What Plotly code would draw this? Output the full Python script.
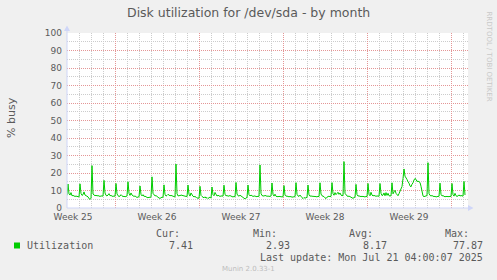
import plotly.graph_objects as go
import pandas as pd

# ---------------- data ----------------
title = "Disk utilization for /dev/sda - by month"
y_title = "% busy"
start_time = "2025-06-18 00:00"
sample_freq = "2h"

# one row per day, 2-hour samples (% busy)
day_rows = [
    [7.2, 13.7, 8.0, 7.4, 8.8, 7.0, 7.2, 6.9, 6.6, 6.8, 6.4, 6.5],
    [6.3, 13.8, 8.3, 7.2, 7.6, 9.2, 7.4, 7.0, 6.8, 6.4, 5.3, 5.0],
    [5.4, 24.2, 8.0, 7.4, 7.0, 7.3, 6.9, 7.1, 6.8, 6.6, 6.9, 6.7],
    [6.8, 15.8, 8.6, 7.2, 6.9, 7.4, 8.2, 7.0, 7.2, 6.8, 6.6, 6.9],
    [6.7, 14.0, 8.1, 7.0, 6.6, 6.8, 7.6, 7.0, 6.5, 6.7, 6.4, 6.6],
    [6.9, 15.0, 8.4, 7.2, 8.6, 7.4, 6.8, 6.6, 6.9, 6.2, 6.0, 6.3],
    [6.4, 12.6, 7.8, 6.9, 7.6, 6.6, 6.8, 6.4, 6.1, 5.8, 6.2, 6.0],
    [6.3, 17.8, 8.4, 7.3, 6.9, 7.1, 6.5, 6.0, 5.7, 5.5, 5.9, 6.2],
    [6.1, 13.2, 7.8, 6.8, 7.2, 7.8, 7.4, 7.0, 7.2, 6.9, 6.7, 6.5],
    [6.3, 25.1, 8.2, 6.9, 7.0, 7.5, 7.2, 7.4, 6.9, 7.1, 6.6, 6.8],
    [6.5, 13.1, 7.9, 6.8, 8.6, 7.2, 6.7, 6.4, 6.6, 6.2, 5.6, 5.8],
    [5.5, 12.4, 7.2, 6.6, 6.2, 5.8, 6.4, 5.6, 6.0, 5.4, 5.9, 6.2],
    [5.6, 12.0, 7.6, 7.0, 8.9, 7.2, 6.8, 7.3, 6.9, 6.6, 6.9, 6.7],
    [6.8, 13.0, 7.9, 6.9, 7.2, 6.7, 6.9, 7.1, 6.8, 6.5, 6.3, 6.6],
    [6.4, 14.6, 8.0, 7.0, 6.8, 7.3, 6.9, 6.6, 6.1, 5.4, 5.2, 5.8],
    [5.9, 13.1, 7.6, 6.9, 7.4, 7.0, 6.6, 6.8, 6.9, 6.5, 6.7, 6.6],
    [6.7, 24.6, 8.3, 7.1, 7.0, 6.8, 7.2, 6.9, 6.7, 6.8, 6.5, 6.6],
    [6.9, 14.3, 7.8, 6.8, 7.9, 6.7, 6.5, 6.6, 6.3, 6.6, 6.4, 6.5],
    [6.4, 12.8, 7.4, 6.7, 6.9, 6.5, 6.6, 6.3, 6.5, 6.2, 6.4, 6.6],
    [6.5, 14.5, 7.8, 6.9, 6.6, 7.4, 6.4, 5.9, 5.4, 6.0, 5.6, 5.9],
    [6.1, 13.1, 7.5, 6.7, 7.0, 6.6, 6.8, 6.5, 6.7, 6.4, 6.6, 6.5],
    [6.6, 14.4, 8.0, 7.0, 6.8, 6.5, 5.8, 5.4, 6.2, 6.6, 6.8, 6.4],
    [6.7, 14.5, 8.2, 7.3, 8.8, 7.6, 8.4, 9.0, 7.8, 8.6, 7.4, 7.0],
    [7.2, 26.5, 8.4, 7.2, 6.9, 6.6, 6.8, 6.5, 6.2, 5.8, 5.5, 6.0],
    [6.2, 13.5, 7.6, 6.8, 7.0, 6.6, 6.7, 6.4, 6.6, 6.5, 6.3, 6.6],
    [6.5, 14.0, 7.8, 7.0, 9.0, 7.4, 6.9, 7.2, 6.8, 6.7, 6.9, 6.6],
    [6.7, 14.0, 8.4, 7.1, 7.4, 8.6, 7.0, 8.8, 7.2, 8.4, 7.0, 6.9],
    [7.0, 14.4, 8.1, 9.2, 10.1, 8.4, 7.5, 7.0, 8.2, 9.8, 10.4, 12.3],
    [16.8, 22.3, 18.2, 17.4, 16.3, 15.0, 14.2, 12.6, 12.1, 13.6, 14.4, 16.0],
    [16.9, 16.4, 15.1, 15.4, 14.8, 14.6, 12.4, 8.2, 6.9, 6.5, 6.7, 6.8],
    [7.1, 25.9, 8.3, 7.2, 6.9, 7.1, 6.8, 6.5, 6.7, 6.3, 6.5, 6.6],
    [6.7, 14.2, 7.8, 6.9, 7.1, 6.7, 6.4, 6.6, 6.5, 6.3, 6.5, 6.6],
    [6.6, 14.0, 7.6, 6.8, 8.4, 7.0, 6.6, 6.9, 7.5, 6.8, 7.2, 6.9],
    [6.8, 15.2, 7.41],
]
utilization = [v for row in day_rows for v in row]
times = pd.date_range(start_time, periods=len(utilization), freq=sample_freq)

x_range = ["2025-06-18 00:00", "2025-07-21 10:00"]
week_starts = ["2025-06-22", "2025-06-29", "2025-07-06", "2025-07-13", "2025-07-20"]
week_label_pos = ["2025-06-18 12:00", "2025-06-25 12:00", "2025-07-02 12:00",
                  "2025-07-09 12:00", "2025-07-16 12:00"]
week_labels = ["Week 25", "Week 26", "Week 27", "Week 28", "Week 29"]

series_name = "Utilization"
stat_names = ["Cur:", "Min:", "Avg:", "Max:"]
stat_values = ["7.41", "2.93", "8.17", "77.87"]
last_update = "Last update: Mon Jul 21 04:00:07 2025"
watermark = "Munin 2.0.33-1"
side_text = "RRDTOOL / TOBI OETIKER"

# ---------------- style ----------------
W, H = 497, 280
L, R, T, B = 67, 468, 33, 208
BG = "#F0F0F0"
FONT_C = "#5a5a5a"
AXIS_C = "#CFD6F8"
MGRID = "rgb(228,150,150)"
GRID = "rgb(204,204,204)"
GREEN = "#00CC00"
SANS = "DejaVu Sans"
MONO = "DejaVu Sans Mono"


def px(x):
    return (x - L) / (R - L)


def py(y):
    return (B - y) / (B - T)


fig = go.Figure()
fig.add_trace(go.Scatter(x=times, y=utilization, mode="lines",
                         line=dict(color=GREEN, width=1),
                         showlegend=False, hoverinfo="skip"))
fig.add_trace(go.Scatter(x=times, y=utilization, mode="lines", xaxis="x2",
                         line=dict(color=GREEN, width=0),
                         showlegend=False, hoverinfo="skip"))

fig.update_layout(
    width=W, height=H,
    margin=dict(l=L, r=W - R, t=T, b=H - B),
    paper_bgcolor=BG, plot_bgcolor="#FFFFFF",
    showlegend=False,
    xaxis=dict(type="date", range=x_range, tickmode="array", tickvals=week_starts,
               showticklabels=False, ticks="", showgrid=True, gridcolor=MGRID,
               griddash="1px,1px", gridwidth=1, zeroline=False, showline=False,
               minor=dict(showgrid=True, tickmode="linear", tick0=start_time,
                          dtick=86400000, gridcolor=GRID, griddash="1px,1px",
                          gridwidth=1)),
    xaxis2=dict(type="date", overlaying="x", anchor="y", side="bottom",
                matches="x", tickmode="array", tickvals=week_label_pos,
                ticktext=week_labels, showgrid=False, ticks="", showline=False,
                zeroline=False, ticklabelstandoff=2,
                tickfont=dict(family=SANS, size=9, color=FONT_C)),
    yaxis=dict(range=[0, 100], tickmode="linear", tick0=0, dtick=10, ticks="",
               showgrid=True, gridcolor=MGRID, griddash="1px,1px", gridwidth=1,
               zeroline=False, showline=False, ticklabelstandoff=4,
               tickfont=dict(family=SANS, size=9, color=FONT_C),
               minor=dict(showgrid=True, tickmode="linear", tick0=0, dtick=5,
                          gridcolor=GRID, griddash="1px,1px", gridwidth=1)),
)

shapes = []
# axes with arrows
shapes.append(dict(type="line", xref="paper", yref="paper", x0=px(L), x1=px(469),
                   y0=py(B), y1=py(B), line=dict(color=AXIS_C, width=1), layer="above"))
shapes.append(dict(type="path", xref="paper", yref="paper",
                   path=f"M{px(468)},{py(205)} L{px(473.5)},{py(208)} L{px(468)},{py(211)} Z",
                   fillcolor=AXIS_C, line=dict(color=AXIS_C, width=0), layer="above"))
shapes.append(dict(type="line", xref="paper", yref="paper", x0=px(L), x1=px(L),
                   y0=py(B), y1=py(30), line=dict(color=AXIS_C, width=1), layer="above"))
shapes.append(dict(type="path", xref="paper", yref="paper",
                   path=f"M{px(64)},{py(31)} L{px(67)},{py(25.5)} L{px(70)},{py(31)} Z",
                   fillcolor=AXIS_C, line=dict(color=AXIS_C, width=0), layer="above"))
# legend swatch
shapes.append(dict(type="rect", xref="paper", yref="paper", x0=px(14), x1=px(20),
                   y0=py(248.5), y1=py(242.5), fillcolor=GREEN, line=dict(width=0)))
fig.update_layout(shapes=shapes)

ann = []


def add_text(text, x, y, xanchor="center", size=9, family=SANS, color=FONT_C, angle=0):
    ann.append(dict(text=text, x=px(x), y=py(y), xref="paper", yref="paper",
                    xanchor=xanchor, yanchor="middle", showarrow=False,
                    textangle=angle, borderpad=0,
                    font=dict(family=family, size=size, color=color)))


add_text(title, 248, 13, size=12.5)
add_text(y_title, 11, 118, size=11, angle=-90)
add_text(side_text, 488.5, 56, size=7, color="#c8c8c8", angle=90)
add_text(series_name, 26, 245, xanchor="left", size=10, family=MONO)
name_right = [180.5, 277.5, 373.5, 469.5]
value_right = [194, 291, 387.5, 483.5]
for n, xr in zip(stat_names, name_right):
    add_text(n, xr, 233, xanchor="right", size=10, family=MONO)
for v, xr in zip(stat_values, value_right):
    add_text(v, xr, 245, xanchor="right", size=10, family=MONO)
add_text(last_update, 483.5, 257, xanchor="right", size=10, family=MONO)
add_text(watermark, 248.5, 269, size=7, color="#bdbdbd")
fig.update_layout(annotations=ann)

fig.write_html("out.html")
